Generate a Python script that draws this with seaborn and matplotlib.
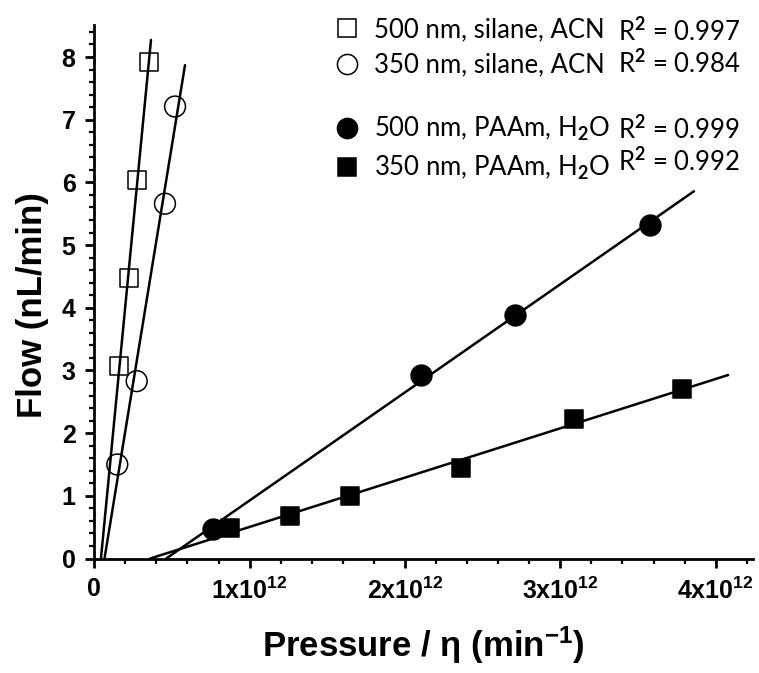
import numpy as np
import pandas as pd
import matplotlib
matplotlib.use("Agg")
import matplotlib.pyplot as plt
import seaborn as sns
from matplotlib.ticker import MultipleLocator, FuncFormatter
from matplotlib.lines import Line2D

# ---- data ----
series_names = ["500 nm, silane, ACN", "350 nm, silane, ACN",
                "500 nm, PAAm, H$_{\\mathsf{2}}$O", "350 nm, PAAm, H$_{\\mathsf{2}}$O"]
r2_labels = ["0.997", "0.984", "0.999", "0.992"]

x_sq_silane = [0.159e12, 0.223e12, 0.277e12, 0.350e12]
y_sq_silane = [3.07, 4.47, 6.04, 7.92]
x_ci_silane = [0.148e12, 0.273e12, 0.455e12, 0.520e12]
y_ci_silane = [1.50, 2.83, 5.66, 7.21]
x_ci_paam = [0.766e12, 2.10e12, 2.71e12, 3.58e12]
y_ci_paam = [0.467, 2.92, 3.89, 5.32]
x_sq_paam = [0.874e12, 1.26e12, 1.647e12, 2.36e12, 3.09e12, 3.78e12]
y_sq_paam = [0.49, 0.68, 0.99, 1.45, 2.22, 2.71]

x_ticks = [0, 1e12, 2e12, 3e12, 4e12]
y_ticks = [0, 1, 2, 3, 4, 5, 6, 7, 8]

# ---- style ----
sns.set_theme(style="ticks")
plt.rcParams.update({
    "font.family": ["Liberation Sans", "DejaVu Sans"],
    "font.weight": "bold",
    "mathtext.fontset": "custom",
    "mathtext.rm": "Liberation Sans",
    "mathtext.bf": "Liberation Sans:bold",
    "mathtext.it": "Liberation Sans:italic",
    "mathtext.sf": "Lato",
    "axes.linewidth": 2.0,
    "text.color": "black",
    "axes.labelcolor": "black",
    "axes.edgecolor": "black",
    "xtick.color": "black",
    "ytick.color": "black",
})

fig = plt.figure(figsize=(7.59, 6.73), dpi=100)
ax = fig.add_axes([0.1242, 0.1701, 0.8679, 0.7927])

specs = [
    dict(x=x_sq_silane, y=y_sq_silane, marker="s", fc="none", ms=13, end=0.365e12),
    dict(x=x_ci_silane, y=y_ci_silane, marker="o", fc="none", ms=15, end=0.584e12),
    dict(x=x_ci_paam, y=y_ci_paam, marker="o", fc="black", ms=15, end=3.86e12),
    dict(x=x_sq_paam, y=y_sq_paam, marker="s", fc="black", ms=13, end=4.08e12),
]

for name, sp in zip(series_names, specs):
    xs = np.asarray(sp["x"], dtype=float)
    ys = np.asarray(sp["y"], dtype=float)
    slope, icpt = np.polyfit(xs, ys, 1)
    x0 = -icpt / slope
    xl = np.array([x0, sp["end"]])
    fit = pd.DataFrame({"x": xl, "y": slope * xl + icpt})
    sns.lineplot(data=fit, x="x", y="y", ax=ax, color="black", lw=1.8,
                 zorder=2, legend=False)
    df = pd.DataFrame({"x": xs, "y": ys})
    sns.scatterplot(data=df, x="x", y="y", ax=ax, marker=sp["marker"],
                    s=sp["ms"] ** 2, facecolor=sp["fc"], edgecolor="black",
                    linewidth=1.1, zorder=3, legend=False)

ax.set_xlim(0, 4.24e12)
ax.set_ylim(0, 8.51)
ax.spines["top"].set_visible(False)
ax.spines["right"].set_visible(False)

ax.set_xticks(x_ticks)
ax.set_yticks(y_ticks)
ax.xaxis.set_minor_locator(MultipleLocator(0.2e12))
ax.yaxis.set_minor_locator(MultipleLocator(0.2))


def xfmt(v, p):
    if abs(v) < 1:
        return "0"
    return r"$\mathbf{%dx10^{12}}$" % round(v / 1e12)


ax.xaxis.set_major_formatter(FuncFormatter(xfmt))
ax.yaxis.set_major_formatter(FuncFormatter(lambda v, p: "%d" % round(v)))
ax.tick_params(which="major", direction="out", length=6.5, width=2,
               labelsize=18, pad=7, color="black", labelcolor="black")
ax.tick_params(which="minor", direction="out", length=3.5, width=1.6,
               color="black")
for lab in ax.get_xticklabels() + ax.get_yticklabels():
    lab.set_fontweight("bold")

ax.set_xlabel("Pressure / \u03b7 (min$^{\\mathbf{-1}}$)", fontsize=25,
              fontweight="bold", labelpad=15)
ax.set_ylabel("Flow (nL/min)", fontsize=25, fontweight="bold")
ax.yaxis.set_label_coords(-0.068, 0.476)

# ---- legends ----
def handle(sp):
    return Line2D([], [], linestyle="none", marker=sp["marker"],
                  markersize=sp["ms"] - 0.5, markerfacecolor=sp["fc"],
                  markeredgecolor="black", markeredgewidth=1.1)


leg_kw = dict(frameon=False, loc="upper left", borderpad=0, borderaxespad=0,
              handlelength=1.0, handletextpad=0.55, labelspacing=0.42,
              prop={"family": "Lato", "size": 18.5, "weight": "normal"})
W, H = 759.0, 673.0
leg1 = fig.legend([handle(s) for s in specs[:2]], series_names[:2],
                  bbox_to_anchor=(334 / W, 1 - 17 / H), **leg_kw)
leg2 = fig.legend([handle(s) for s in specs[2:]], series_names[2:],
                  bbox_to_anchor=(334 / W, 1 - 115 / H), **leg_kw)

row_y = [32, 64, 130, 162]
for ry, r2 in zip(row_y, r2_labels):
    fig.text(618 / W, 1 - ry / H, "R$^{\\mathsf{2}}$ = " + r2, family="Lato",
             fontsize=18.5, fontweight="normal", va="center", ha="left")

fig.savefig("out.png", dpi=100, facecolor="white")
